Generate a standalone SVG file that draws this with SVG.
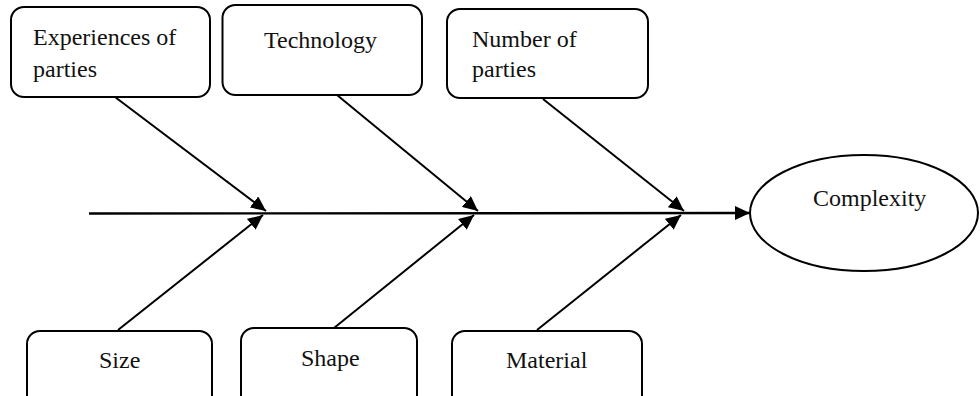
<svg xmlns="http://www.w3.org/2000/svg" width="980" height="396" viewBox="0 0 980 396">
  <style>
    .box { fill: #ffffff; stroke: #000000; stroke-width: 2; }
    .lbl { font-family: "Liberation Serif", "Times New Roman", serif; font-size: 24px; fill: #111111; }
    .bone { stroke: #000000; stroke-width: 2; fill: none; marker-end: url(#head); }
    .spine { stroke: #000000; stroke-width: 2.4; fill: none; marker-end: url(#head); }
  </style>
  <defs>
    <marker id="head" markerUnits="userSpaceOnUse" markerWidth="16" markerHeight="14" refX="15" refY="7" orient="auto">
      <path d="M0,0 L15,7 L0,14 Z" fill="#000000"/>
    </marker>
  </defs>
  <rect width="980" height="396" fill="#ffffff"/>

  <!-- connectors: spine and cause bones -->
  <g id="connectors">
    <line class="spine" x1="89" y1="213.5" x2="750" y2="213"/>
    <line class="bone" x1="115" y1="97" x2="266" y2="211"/>
    <line class="bone" x1="337" y1="95" x2="478" y2="211"/>
    <line class="bone" x1="543" y1="99" x2="684" y2="211"/>
    <line class="bone" x1="118" y1="330" x2="263" y2="215"/>
    <line class="bone" x1="334" y1="328" x2="474" y2="215"/>
    <line class="bone" x1="537" y1="330" x2="681" y2="215"/>
  </g>

  <g id="experiences">
    <rect class="box" x="11" y="7" width="199" height="90" rx="13"/>
    <text class="lbl" x="33" y="45">Experiences of</text>
    <text class="lbl" x="33" y="77">parties</text>
  </g>
  <g id="technology">
    <rect class="box" x="222.5" y="5" width="199.5" height="90" rx="13"/>
    <text class="lbl" x="264" y="48">Technology</text>
  </g>
  <g id="number">
    <rect class="box" x="447" y="9" width="201" height="89" rx="13"/>
    <text class="lbl" x="472" y="47">Number of</text>
    <text class="lbl" x="472" y="77">parties</text>
  </g>
  <g id="size">
    <rect class="box" x="27" y="331" width="185" height="85" rx="13"/>
    <text class="lbl" x="99" y="368">Size</text>
  </g>
  <g id="shape">
    <rect class="box" x="241" y="328" width="176" height="88" rx="13"/>
    <text class="lbl" x="301" y="366">Shape</text>
  </g>
  <g id="material">
    <rect class="box" x="452" y="331" width="190" height="85" rx="13"/>
    <text class="lbl" x="506" y="368">Material</text>
  </g>
  <g id="complexity">
    <ellipse class="box" cx="864" cy="213" rx="114" ry="58"/>
    <text class="lbl" x="813" y="205.5">Complexity</text>
  </g>
</svg>
